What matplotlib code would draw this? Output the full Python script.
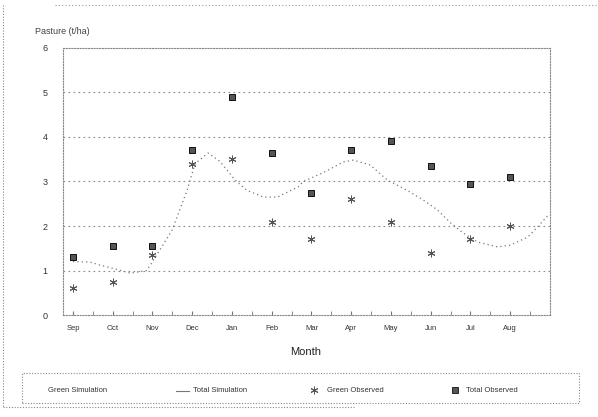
import matplotlib
matplotlib.use("Agg")
import matplotlib.pyplot as plt
from matplotlib.lines import Line2D
from matplotlib.patches import Rectangle

months = ["Sep", "Oct", "Nov", "Dec", "Jan", "Feb", "Mar", "Apr", "May", "Jun", "Jul", "Aug"]
total_observed = [1.3, 1.55, 1.55, 3.7, 4.9, 3.65, 2.75, 3.7, 3.9, 3.35, 2.95, 3.1]
green_observed = [0.6, 0.75, 1.35, 3.4, 3.5, 2.1, 1.7, 2.6, 2.1, 1.4, 1.7, 2.0]

# Total simulation curve (month index, t/ha)
sim_x = [0.0, 0.43, 0.68, 1.0, 1.44, 1.86, 2.07, 2.49, 2.87, 3.07, 3.40, 3.7, 4.08, 4.38,
         4.79, 5.14, 5.67, 5.79, 6.30, 6.80, 7.05, 7.48, 7.91, 8.41, 8.82, 9.17, 9.50,
         9.82, 10.18, 10.68, 11.0, 11.44, 11.69, 11.96]
sim_y = [1.2, 1.19, 1.12, 1.05, 0.94, 1.0, 1.3, 1.9, 2.8, 3.4, 3.64, 3.45, 3.03, 2.8,
         2.65, 2.65, 2.88, 3.0, 3.2, 3.44, 3.48, 3.37, 3.03, 2.8, 2.58, 2.36, 2.07,
         1.84, 1.64, 1.53, 1.57, 1.75, 1.98, 2.25]

plt.rcParams['font.family'] = ['Liberation Sans', 'DejaVu Sans']

fig = plt.figure(figsize=(5.98, 4.17), dpi=100)
ax = fig.add_axes([0.1054, 0.2446, 0.8143, 0.6403])

gc = '#8a8a8a'
for y in [1, 2, 3, 4, 5]:
    ax.axhline(y, color=gc, lw=0.8, ls=(0, (1.5, 3)), zorder=1)

ax.plot(sim_x, sim_y, color='#777777', lw=0.9, ls=(0, (1, 2.5)), zorder=2)
x = list(range(len(months)))
ax.plot(x, total_observed, ls='none', marker='s', ms=4.8, mfc='#555555', mec='#111111',
        mew=0.7, zorder=3)
ax.plot(x, green_observed, ls='none', marker=(6, 2, 0), ms=5.5, color='#555555',
        mew=0.7, zorder=3)

ax.set_xlim(-0.25, 12.0)
ax.set_ylim(0, 6)
ax.set_xticks(x)
ax.set_xticklabels(months, fontsize=5.5, color='#333333')
ax.set_xticks([i + 0.5 for i in range(12)], minor=True)
ax.set_yticks([0, 1, 2, 3, 4, 5, 6])
ax.set_yticklabels(['0', '1', '2', '3', '4', '5', '6'], fontsize=6.5, color='#333333')
ax.tick_params(axis='x', which='both', direction='in', length=3, color='#777777', pad=7)
ax.tick_params(axis='y', which='both', length=0, pad=11)
for s in ax.spines.values():
    s.set_linestyle((0, (1, 1.5)))
    s.set_color('#888888')
    s.set_linewidth(0.8)

fig.text(35 / 598, 1 - 32 / 417, "Pasture (t/ha)", fontsize=6.5, color='#444444',
         va='center', ha='left')
fig.text(306 / 598, 1 - 352 / 417, "Month", fontsize=8, color='#222222',
         va='center', ha='center')

# legend box
fig.add_artist(Rectangle((22 / 598, 1 - 403 / 417), (579 - 22) / 598, 30 / 417,
                         transform=fig.transFigure, fill=False, ec='#888888', lw=0.8,
                         ls=(0, (1, 1.5))))
ly = 1 - 391 / 417
fig.text(48 / 598, ly, "Green Simulation", fontsize=5.5, color='#333333', va='center')
fig.add_artist(Line2D([176 / 598, 189 / 598], [ly, ly], transform=fig.transFigure,
                      color='#777777', lw=0.8))
fig.text(193 / 598, ly, "Total Simulation", fontsize=5.5, color='#333333', va='center')
fig.add_artist(Line2D([314 / 598], [ly + 0.003], transform=fig.transFigure, ls='none',
                      marker=(6, 2, 0), ms=5.5, color='#555555', mew=0.7))
fig.text(327 / 598, ly, "Green Observed", fontsize=5.5, color='#333333', va='center')
fig.add_artist(Line2D([455 / 598], [ly + 0.003], transform=fig.transFigure, ls='none',
                      marker='s', ms=4.2, mfc='#555555', mec='#111111', mew=0.6))
fig.text(466 / 598, ly, "Total Observed", fontsize=5.5, color='#333333', va='center')

# outer scanned frame fragments
fig.add_artist(Line2D([3 / 598, 3 / 598], [1 - 5 / 417, 1 - 407 / 417],
                      transform=fig.transFigure, color='#888888', lw=0.8, ls=(0, (1, 1.5))))
fig.add_artist(Line2D([3 / 598, 355 / 598], [1 - 407 / 417, 1 - 407 / 417],
                      transform=fig.transFigure, color='#888888', lw=0.8, ls=(0, (1, 1.5))))
fig.add_artist(Line2D([55 / 598, 598 / 598], [1 - 5 / 417, 1 - 5 / 417],
                      transform=fig.transFigure, color='#999999', lw=0.8, ls=(0, (1, 2))))

fig.savefig("out.png", dpi=100)
